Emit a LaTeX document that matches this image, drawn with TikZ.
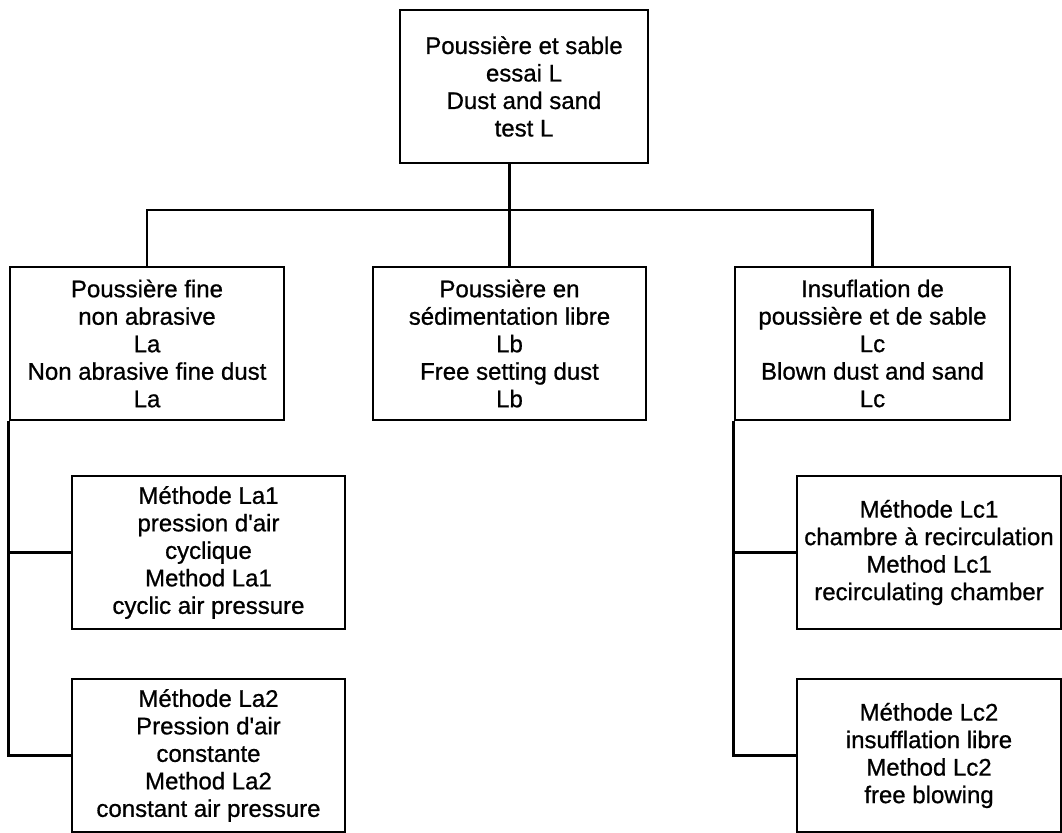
\documentclass[tikz,border=0pt]{standalone}
\usepackage{fontspec}
\setmainfont{Liberation Sans}[FakeBold=0.8, Ligatures=TeXOff]
\begin{document}
\begin{tikzpicture}[x=1pt,y=-1pt,
  box/.style={draw, line width=2.8pt, inner sep=0pt, align=center,
    minimum height=153pt, font=\fontsize{24}{27.5}\selectfont},
  link/.style={line width=2.8pt}]
\useasboundingbox (0,0) rectangle (1062,832);
\node[box, minimum width=248pt] (top) at (524,86.5) {Poussière et sable\\essai L\\Dust and sand\\test L};
\node[box, minimum width=274pt] (La) at (147,343.5) {Poussière fine\\non abrasive\\La\\Non abrasive fine dust\\La};
\node[box, minimum width=273pt] (Lb) at (509.5,343.5) {Poussière en\\sédimentation libre\\Lb\\Free setting dust\\Lb};
\node[box, minimum width=275pt] (Lc) at (872.5,343.5) {Insuflation de\\poussière et de sable\\Lc\\Blown dust and sand\\Lc};
\node[box, minimum width=273pt] (La1) at (208.5,552.5) {Méthode La1\\pression d'air\\cyclique\\Method La1\\cyclic air pressure};
\node[box, minimum width=273pt] (La2) at (208.5,755.5) {Méthode La2\\Pression d'air\\constante\\Method La2\\constant air pressure};
\node[box, minimum width=264pt] (Lc1) at (929,552.5) {Méthode Lc1\\chambre à recirculation\\Method Lc1\\recirculating chamber};
\node[box, minimum width=264pt] (Lc2) at (929,755.5) {Méthode Lc2\\insufflation libre\\Method Lc2\\free blowing};
\coordinate (bus) at (0,210);
\draw[link] (Lb.north) -- (Lb.north |- top.south);
\draw[link] (La.north) -- (La.north |- bus) -- (Lc.north |- bus) -- (Lc.north);
\draw[link] (La.south west) |- (La2.west);
\draw[link] (La1.west) -- (La1.west -| La.west);
\draw[link] (Lc.south west) |- (Lc2.west);
\draw[link] (Lc1.west) -- (Lc1.west -| Lc.west);
\end{tikzpicture}
\end{document}
